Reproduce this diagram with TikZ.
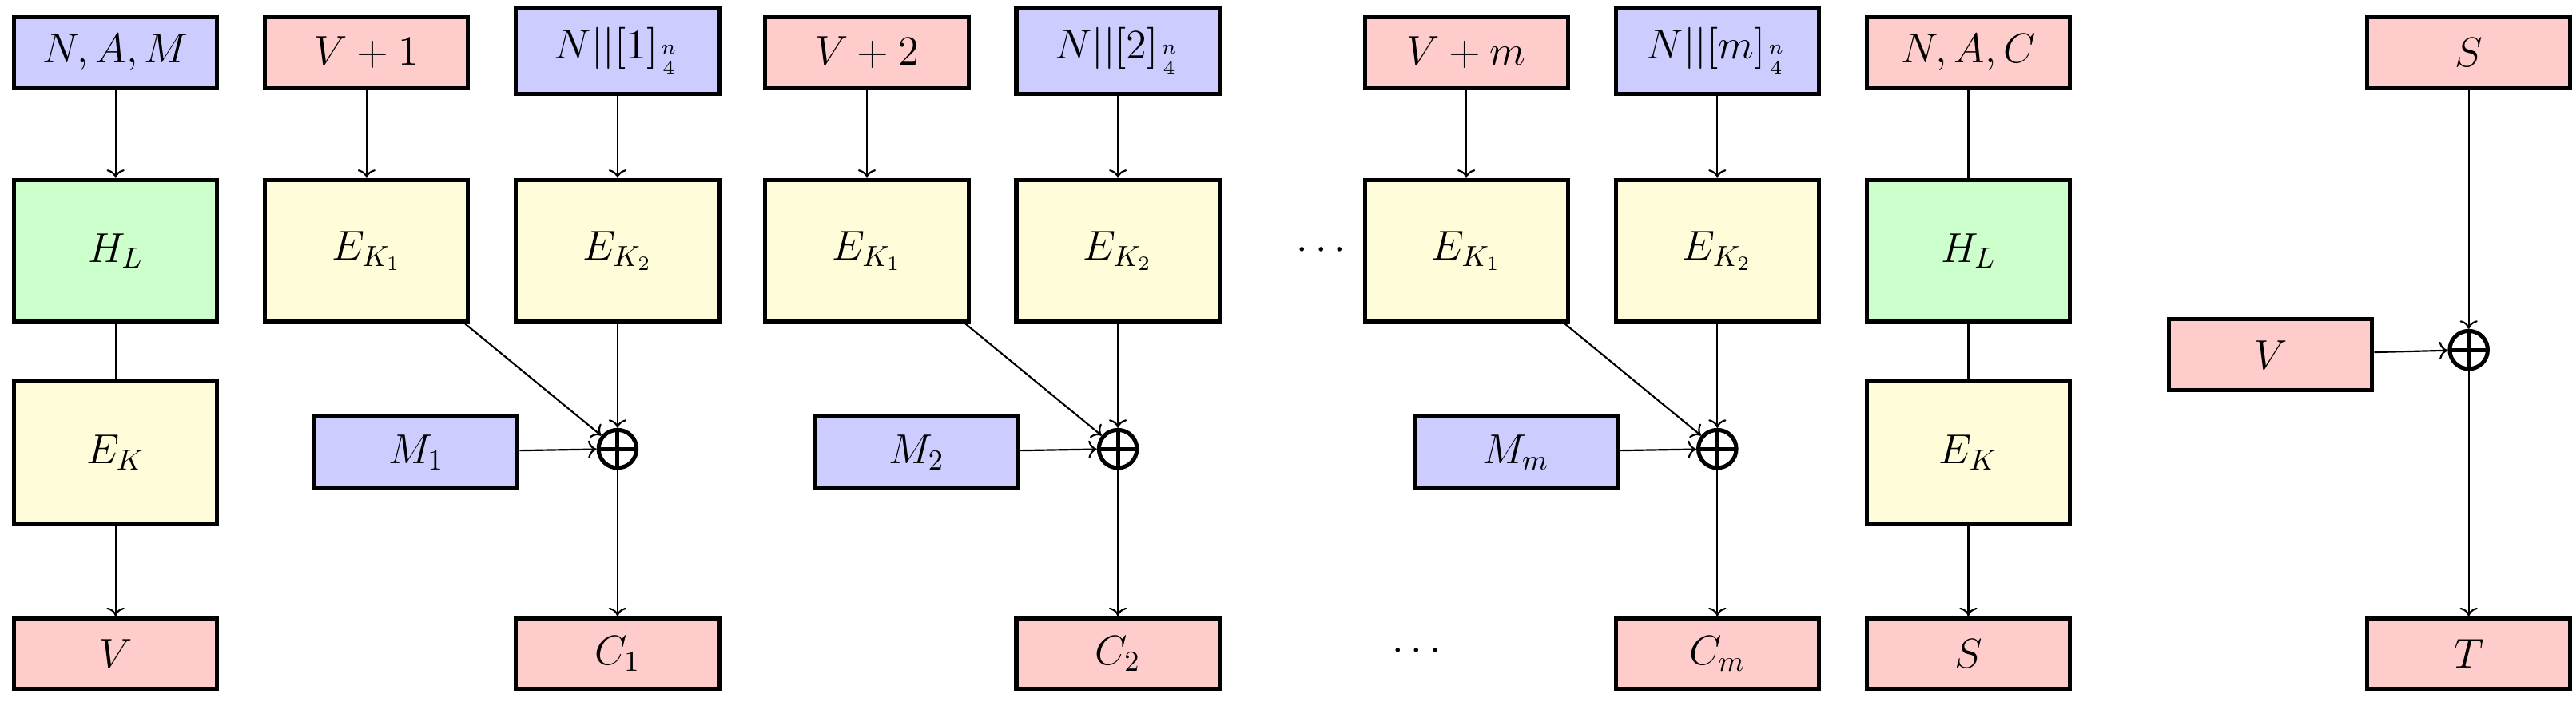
\documentclass[tikz,border=0pt]{standalone}
\usetikzlibrary{arrows.meta}
\definecolor{cb}{RGB}{204,204,255}
\definecolor{cr}{RGB}{255,204,204}
\definecolor{cg}{RGB}{204,255,204}
\definecolor{cy}{RGB}{255,253,217}
\begin{document}
\begin{tikzpicture}[x=0.2mm,y=-0.2mm,font=\fontsize{14}{17}\selectfont,
 box/.style={draw,line width=1.4pt,minimum width=24.6mm,minimum height=8.6mm,inner sep=0pt},
 big/.style={box,minimum height=17.2mm},
 nb/.style={box,minimum height=10.4mm,fill=cb},
 xo/.style={circle,draw,line width=1.4pt,minimum size=4.6mm,inner sep=0pt,path picture={\draw[line width=1.4pt] (path picture bounding box.north)--(path picture bounding box.south) (path picture bounding box.west)--(path picture bounding box.east);}},
 ar/.style={->,line width=0.6pt},
 ln/.style={line width=0.6pt}]
\path[use as bounding box] (0,0) rectangle (1560,425);
% column 1
\node[box,fill=cb] (nam) at (70,32) {$N,A,M$};
\node[big,fill=cg] (hl1) at (70,152) {$H_L$};
\node[big,fill=cy] (ek1) at (70,274) {$E_K$};
\node[box,fill=cr] (v) at (70,396) {$V$};
\draw[ar] (nam)--(hl1); \draw[ln] (hl1)--(ek1); \draw[ar] (ek1)--(v);
% blocks
\foreach \a/\b/\i/\lab/\nl/\ml in {222/374/1/{V+1}/{N||[1]_{\frac{n}{4}}}/{M_1},525/677/2/{V+2}/{N||[2]_{\frac{n}{4}}}/{M_2},888/1040/3/{V+m}/{N||[m]_{\frac{n}{4}}}/{M_m}}{
 \node[box,fill=cr] (vi\i) at (\a,32) {$\lab$};
 \node[nb] (ni\i) at (\b,31) {$\nl$};
 \node[big,fill=cy] (ea\i) at (\a,152) {$E_{K_1}$};
 \node[big,fill=cy] (eb\i) at (\b,152) {$E_{K_2}$};
 \node[xo] (x\i) at (\b,272) {};
 \node[box,fill=cb] (m\i) at (\b-122,274) {$\ml$};
 \draw[ar] (vi\i)--(ea\i); \draw[ar] (ni\i)--(eb\i);
 \draw[ar] (eb\i)--(x\i); \draw[ar] (m\i)--(x\i);
 \draw[ar] (ea\i.south east)++(-3,0) coordinate (d\i) (d\i)--(x\i);
}
\node[box,fill=cr] (c1) at (374,396) {$C_1$};
\node[box,fill=cr] (c2) at (677,396) {$C_2$};
\node[box,fill=cr] (c3) at (1040,396) {$C_m$};
\draw[ar] (x1)--(c1); \draw[ar] (x2)--(c2); \draw[ar] (x3)--(c3);
\node (dd1) at (800,152) {$\cdots$};
\node (dd2) at (858,395) {$\cdots$};
% column NAC
\node[box,fill=cr] (nac) at (1192,32) {$N,A,C$};
\node[big,fill=cg] (hl2) at (1192,152) {$H_L$};
\node[big,fill=cy] (ek2) at (1192,274) {$E_K$};
\node[box,fill=cr] (s) at (1192,396) {$S$};
\draw[ln] (nac)--(hl2); \draw[ln] (hl2)--(ek2); \draw[ar] (ek2)--(s);
% tag
\node[box,fill=cr] (s2) at (1495,32) {$S$};
\node[xo] (xt) at (1495,212) {};
\node[box,fill=cr] (vt) at (1375,215) {$V$};
\node[box,fill=cr] (t) at (1495,396) {$T$};
\draw[ar] (s2)--(xt); \draw[ar] (vt)--(xt); \draw[ar] (xt)--(t);
\end{tikzpicture}
\end{document}
